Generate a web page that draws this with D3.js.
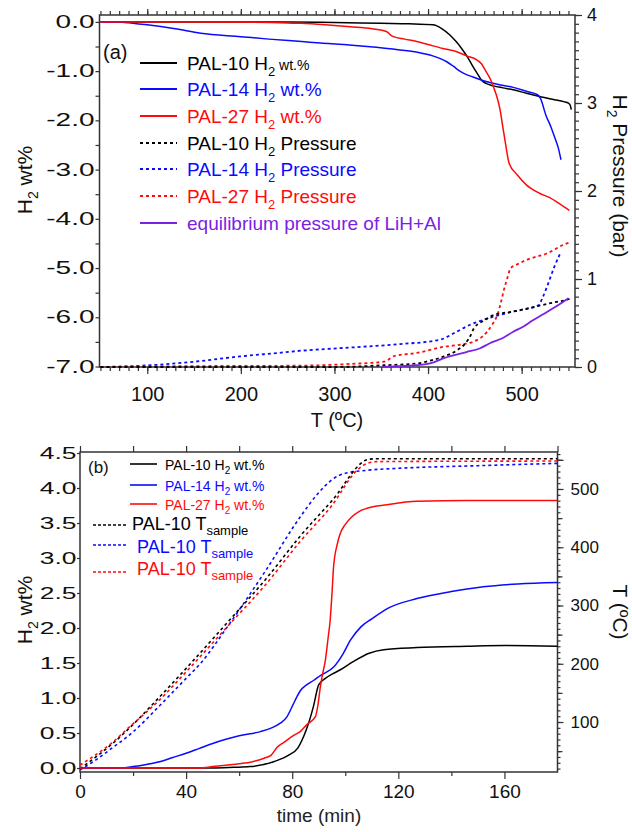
<!DOCTYPE html>
<html>
<head>
<meta charset="utf-8">
<script src="https://cdn.jsdelivr.net/npm/d3@7"></script>
<style>
body { margin: 0; background: #fff; }
svg text { white-space: pre; font-weight: normal; }
</style>
</head>
<body>
<svg width="632" height="832"></svg>
<script>
// ---------- panel (a): H2 wt% and H2 pressure vs T (ºC)
var pal10WtA = [[50,0],[150,0],[250,0],[300,-0.01],[350,-0.03],[380,-0.04],[405,-0.06],[415,-0.14],[423,-0.26],[430,-0.4],[437,-0.57],[443,-0.74],[448,-0.91],[453,-1.06],[457,-1.18],[462,-1.25],[470,-1.3],[480,-1.34],[491,-1.38],[505,-1.45],[520,-1.52],[535,-1.58],[545,-1.62],[550,-1.65],[552,-1.7],[553,-1.78]];
var pal14WtA = [[50,0],[70,0],[80,-0.02],[100,-0.06],[130,-0.14],[157,-0.23],[200,-0.3],[230,-0.35],[265,-0.4],[285,-0.43],[310,-0.46],[335,-0.5],[370,-0.57],[390,-0.62],[405,-0.69],[420,-0.81],[427,-0.9],[434,-1.0],[441,-1.07],[448,-1.12],[462,-1.21],[475,-1.27],[491,-1.33],[505,-1.41],[517,-1.48],[520,-1.55],[526,-1.9],[531,-2.12],[535,-2.33],[539,-2.55],[542,-2.8]];
var pal27WtA = [[50,0],[150,0],[250,-0.02],[264,-0.03],[290,-0.06],[317,-0.1],[340,-0.14],[356,-0.2],[360,-0.27],[363,-0.3],[375,-0.35],[388,-0.4],[400,-0.46],[416,-0.54],[430,-0.6],[441,-0.69],[452,-0.77],[457,-0.85],[462,-1.01],[467,-1.18],[471,-1.38],[474,-1.55],[477,-1.79],[480,-2.15],[483,-2.5],[486.6,-2.87],[495,-3.1],[505,-3.31],[519,-3.48],[530,-3.57],[537,-3.65],[545,-3.75],[551,-3.83]];
var pal10PA = [[50,0],[200,0],[300,0],[353,0.02],[388,0.04],[405,0.08],[417,0.12],[431,0.19],[440,0.27],[445,0.35],[449,0.44],[455,0.5],[460,0.53],[470,0.59],[491,0.63],[512,0.68],[537,0.74],[550,0.77],[552,0.8]];
var pal14PA = [[50,0],[103,0.02],[150,0.06],[199,0.12],[240,0.16],[264,0.185],[285,0.2],[330,0.23],[370,0.26],[413,0.31],[427,0.38],[445,0.48],[463,0.55],[491,0.63],[518,0.7],[522,0.78],[527,0.91],[535,1.14],[542,1.31]];
var pal27PA = [[50,0],[150,0.01],[263,0.015],[317,0.035],[353,0.06],[364,0.125],[388,0.16],[417,0.23],[438,0.26],[449,0.29],[456,0.33],[463,0.4],[469,0.49],[474,0.59],[478,0.74],[481,0.875],[485,1.02],[488,1.12],[496,1.17],[506,1.22],[527,1.29],[545,1.39],[550,1.41]];
var eqPA = [[351,0],[370,0.01],[388,0.02],[405,0.05],[417,0.1],[441,0.17],[455,0.21],[466,0.27],[480,0.33],[491,0.4],[502,0.46],[512,0.53],[523,0.6],[534,0.67],[543,0.73],[550,0.78]];

var xTicksA = [100, 200, 300, 400, 500];
var wtTicksA = [0, -1, -2, -3, -4, -5, -6, -7];
var pTicksA = [0, 1, 2, 3, 4];

// ---------- panel (b): H2 wt% and sample T vs time (min)
var pal10WtB = [[0,0],[30,0],[50,0],[58,0.01],[64,0.02],[73,0.09],[79,0.19],[82,0.28],[84.3,0.45],[86,0.62],[88,0.88],[90,1.19],[92.5,1.28],[95,1.34],[98,1.4],[103,1.52],[109,1.64],[114.5,1.69],[127,1.72],[146,1.74],[160,1.75],[180,1.74]];
var pal14WtB = [[0,0],[15,0],[20,0.02],[25,0.05],[30,0.09],[35,0.15],[40,0.21],[45,0.28],[50,0.35],[55,0.41],[60,0.46],[68,0.52],[72,0.57],[75.5,0.64],[78,0.73],[80,0.88],[81.8,1.02],[83,1.1],[85.5,1.19],[88,1.25],[90.6,1.32],[95.8,1.45],[99,1.62],[102,1.83],[106,2.02],[110,2.13],[116,2.28],[127,2.42],[140,2.52],[152,2.59],[165,2.63],[180,2.65]];
var pal27WtB = [[0,0],[45,0],[50,0.02],[55,0.04],[60,0.06],[65,0.09],[69.4,0.14],[72,0.18],[74.4,0.3],[77,0.37],[80.7,0.47],[83,0.52],[85.5,0.62],[88.7,0.73],[89.7,0.9],[90.6,1.16],[91.5,1.35],[92.5,1.54],[93.5,1.85],[94.3,2.11],[95,2.5],[95.6,2.88],[97,3.2],[98.1,3.35],[100,3.48],[102.5,3.59],[105,3.66],[108.2,3.71],[115.7,3.76],[127,3.81],[146,3.82],[180,3.82]];
var pal10TB = [[0,20],[6,40],[12,62],[17.8,86],[30,143],[40,192],[55.8,272],[70,345],[83,419],[95,480],[108.8,551],[112,552],[180,552]];
var pal14TB = [[0,18],[6,35],[12,55],[20,83],[30,128],[40,175],[45.3,200],[55.8,265],[70,360],[83,452],[89.3,490],[95.6,518],[100,527],[108,532],[120,535.5],[150,540],[180,544]];
var pal27TB = [[0,26],[6,44],[12,64],[17.8,88],[30,138],[40,186],[55.8,265],[70,336],[83,410],[95,472],[104.4,532],[108.2,544],[112,547],[180,548]];

var xTicksB = [0, 40, 80, 120, 160];
var wtTicksB = [0, 0.5, 1, 1.5, 2, 2.5, 3, 3.5, 4, 4.5];
var tTicksB = [100, 200, 300, 400, 500];

var font = '"Liberation Sans", Arial, Helvetica, sans-serif';
var axisCol = "#333";
var BLACK = "#000", BLUE = "#0a0aff", RED = "#ff0a0a", PURPLE = "#7a22e4";

var svg = d3.select("svg").attr("font-family", font);

var xA = d3.scaleLinear().domain([49, 557]).range([99.5, 575]);
var yA = d3.scaleLinear().domain([-7.01, 0.14]).range([367, 15]);
var pA = d3.scaleLinear().domain([0, 4]).range([367, 15]);

var xB = d3.scaleLinear().domain([0, 180]).range([80, 557.5]);
var yB = d3.scaleLinear().domain([-0.057, 4.514]).range([772, 452]);
var tB = d3.scaleLinear().domain([14.2, 563.5]).range([772, 452]);

function axis(gen, tr, vals, size, fmt, fs) {
    var g = svg.append("g").attr("transform", tr)
        .call(gen.tickValues(vals).tickSize(size).tickSizeOuter(0)
            .tickFormat(fmt || function() { return ""; }));
    g.select(".domain").remove();
    g.attr("font-family", font).attr("font-size", fs || 18);
    g.selectAll("line").attr("stroke", axisCol).attr("stroke-width", 1.2);
    g.selectAll("text").attr("fill", "#111");
    return g;
}

// left tick labels in the picture are drawn wide, so stretch them sideways
function stretch(g, off, s) {
    g.selectAll("text").attr("x", -off / s).attr("transform", "scale(" + s + ",1)");
}

function plot(data, x, y, color, dash, w) {
    svg.append("path").datum(data)
        .attr("fill", "none")
        .attr("stroke", color)
        .attr("stroke-width", w || 1.5)
        .attr("stroke-dasharray", dash || null)
        .attr("d", d3.line().x(d => x(d[0])).y(d => y(d[1])).curve(d3.curveMonotoneX));
}

function rich(x, y, parts, size, color, rot) {
    var t = svg.append("text").attr("font-size", size).attr("fill", color);
    if (rot) t.attr("transform", "translate(" + x + "," + y + ") rotate(" + rot + ")").attr("text-anchor", "middle");
    else t.attr("x", x).attr("y", y);
    var shift = 0;
    parts.forEach(function(p) {
        var s = t.append("tspan").text(p[0]);
        var want = p[1] === "sub" ? Math.round(size * 0.3) : 0;
        if (want !== shift) s.attr("dy", want - shift);
        shift = want;
        if (p[2]) s.attr("font-size", p[2]);
    });
    return t;
}

// ===== panel (a)
axis(d3.axisBottom(xA), "translate(0,367)", d3.range(50, 556, 10), 4);
var bxA = axis(d3.axisBottom(xA), "translate(0,367)", xTicksA, 7, d => d, 20);
bxA.selectAll("text").attr("y", 34).attr("dy", null);
axis(d3.axisTop(xA), "translate(0,15)", d3.range(50, 556, 10), 4);
axis(d3.axisTop(xA), "translate(0,15)", xTicksA, 6);

axis(d3.axisLeft(yA), "translate(99.5,0)", d3.range(-6.5, 0.1, 1), 4);
var lyA = axis(d3.axisLeft(yA), "translate(99.5,0)", wtTicksA, 4, d => d.toFixed(1), 17.5);
stretch(lyA, 5, 1.6);

axis(d3.axisRight(pA), "translate(575,0)", d3.range(0, 4.01, 0.1), 4);
var ryA = axis(d3.axisRight(pA), "translate(575,0)", pTicksA, 7, d => d, 18);
ryA.selectAll("text").attr("x", 12);

svg.append("rect").attr("x", 99.5).attr("y", 15).attr("width", 475.5).attr("height", 352)
    .attr("fill", "none").attr("stroke", axisCol).attr("stroke-width", 1.5);

plot(pal14PA, xA, pA, BLUE, "3,3", 1.8);
plot(pal27PA, xA, pA, RED, "3,3", 1.8);
plot(pal10PA, xA, pA, BLACK, "3,3", 1.8);
plot(eqPA, xA, pA, PURPLE, null, 1.8);
plot(pal10WtA, xA, yA, BLACK);
plot(pal14WtA, xA, yA, BLUE);
plot(pal27WtA, xA, yA, RED);

svg.append("text").attr("x", 103).attr("y", 59).attr("font-size", 20).attr("fill", "#111").text("(a)");

var legA = [
    { c: BLACK, d: null, parts: [["PAL-10 H"], ["2", "sub", 13], [" wt.%", "", 14]] },
    { c: BLUE, d: null, parts: [["PAL-14 H"], ["2", "sub", 13], [" wt.%"]] },
    { c: RED, d: null, parts: [["PAL-27 H"], ["2", "sub", 13], [" wt.%"]] },
    { c: BLACK, d: "3,3", parts: [["PAL-10 H"], ["2", "sub", 13], [" Pressure"]] },
    { c: BLUE, d: "3,3", parts: [["PAL-14 H"], ["2", "sub", 13], [" Pressure"]] },
    { c: RED, d: "3,3", parts: [["PAL-27 H"], ["2", "sub", 13], [" Pressure"]] },
    { c: PURPLE, d: null, parts: [["equilibrium pressure of LiH+Al"]] }
];
var legAy = [63, 89, 116, 143, 169, 196, 223];
legA.forEach(function(r, i) {
    svg.append("line").attr("x1", 140).attr("x2", 177).attr("y1", legAy[i]).attr("y2", legAy[i])
        .attr("stroke", r.c).attr("stroke-width", 1.8).attr("stroke-dasharray", r.d);
    rich(187, legAy[i] + 6.5, r.parts, 19, r.c);
});

rich(32, 180, [["H"], ["2", "sub", 14], [" wt%"]], 21, "#111", -90);
rich(613, 176, [["H"], ["2", "sub", 14], [" Pressure (bar)"]], 21, "#111", 90);
svg.append("text").attr("x", 337).attr("y", 427).attr("font-size", 20).attr("fill", "#111")
    .attr("text-anchor", "middle").text("T (ºC)");

// ===== panel (b)
axis(d3.axisBottom(xB), "translate(0,772)", d3.range(20, 180, 40), 4);
var bxB = axis(d3.axisBottom(xB), "translate(0,772)", xTicksB, 7, d => d, 19);
bxB.selectAll("text").attr("y", 26).attr("dy", null);
axis(d3.axisTop(xB), "translate(0,452)", d3.range(0, 181, 20), 6);

var lyB = axis(d3.axisLeft(yB), "translate(80,0)", wtTicksB, 3, d => d.toFixed(1), 16);
stretch(lyB, 3.5, 1.65);

axis(d3.axisRight(tB), "translate(557.5,0)", d3.range(20, 561, 10), 3);
axis(d3.axisRight(tB), "translate(557.5,0)", d3.range(50, 561, 100), 5);
var ryB = axis(d3.axisRight(tB), "translate(557.5,0)", tTicksB.concat([550]), 6, d => d === 550 ? "" : d, 17);
ryB.selectAll("text").attr("x", 13);

svg.append("rect").attr("x", 80).attr("y", 452).attr("width", 477.5).attr("height", 320)
    .attr("fill", "none").attr("stroke", axisCol).attr("stroke-width", 1.5);

plot(pal14TB, xB, tB, BLUE, "3,3", 1.6);
plot(pal10TB, xB, tB, BLACK, "3,3", 1.6);
plot(pal27TB, xB, tB, RED, "3,3", 1.6);
plot(pal10WtB, xB, yB, BLACK);
plot(pal14WtB, xB, yB, BLUE);
plot(pal27WtB, xB, yB, RED);

svg.append("text").attr("x", 88).attr("y", 473).attr("font-size", 17).attr("fill", "#111").text("(b)");

var legB = [
    { c: BLACK, d: null, y: 464, x1: 130, x2: 157, tx: 165, ty: 470, fs: 14, parts: [["PAL-10 H"], ["2", "sub", 10], [" wt.%"]] },
    { c: BLUE, d: null, y: 485, x1: 130, x2: 157, tx: 165, ty: 491, fs: 14, parts: [["PAL-14 H"], ["2", "sub", 10], [" wt.%"]] },
    { c: RED, d: null, y: 504, x1: 130, x2: 157, tx: 165, ty: 510, fs: 14, parts: [["PAL-27 H"], ["2", "sub", 10], [" wt.%"]] },
    { c: BLACK, d: "3,2", y: 525, x1: 93, x2: 128, tx: 132, ty: 530, fs: 18, parts: [["PAL-10 T"], ["sample", "sub", 13]] },
    { c: BLUE, d: "3,2", y: 545, x1: 93, x2: 128, tx: 137, ty: 553, fs: 18, parts: [["PAL-10 T"], ["sample", "sub", 13]] },
    { c: RED, d: "3,2", y: 572, x1: 93, x2: 128, tx: 137, ty: 575, fs: 18, parts: [["PAL-10 T"], ["sample", "sub", 13]] }
];
legB.forEach(function(r) {
    svg.append("line").attr("x1", r.x1).attr("x2", r.x2).attr("y1", r.y).attr("y2", r.y)
        .attr("stroke", r.c).attr("stroke-width", 1.6).attr("stroke-dasharray", r.d);
    rich(r.tx, r.ty, r.parts, r.fs, r.c);
});

rich(32, 610, [["H"], ["2", "sub", 14], [" wt%"]], 21, "#111", -90);
rich(613, 612, [["T (ºC)"]], 21, "#111", 90);
svg.append("text").attr("x", 319).attr("y", 822).attr("font-size", 19).attr("fill", "#222")
    .attr("text-anchor", "middle").text("time (min)");
</script>
</body>
</html>
